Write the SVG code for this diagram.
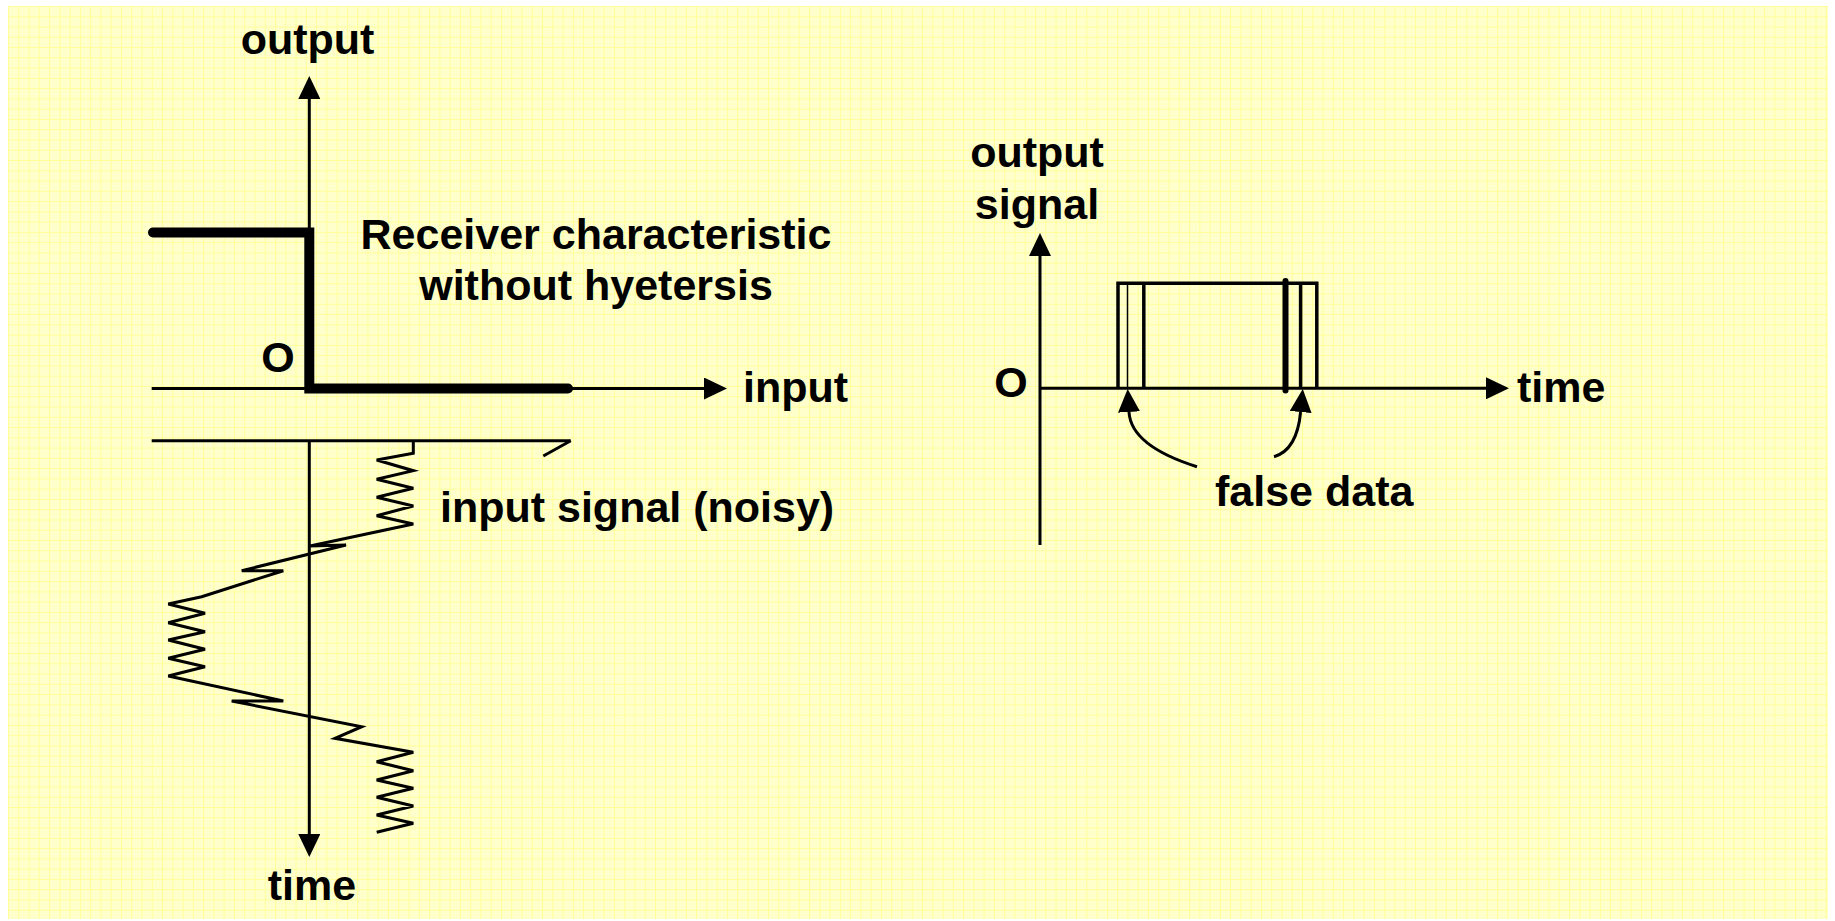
<svg xmlns="http://www.w3.org/2000/svg" width="1835" height="921" viewBox="0 0 1835 921">
  <style>
    .lbl { font-family: "Liberation Sans", Arial, sans-serif; font-weight: bold; font-size: 43px; fill: #000; }
    .ax { stroke: #000; stroke-width: 3; fill: none; }
    .noise { stroke: #000; stroke-width: 3; fill: none; stroke-linejoin: miter; }
    .thick { stroke: #000; stroke-width: 10; fill: none; stroke-linecap: round; stroke-linejoin: miter; }
    .pulse { stroke: #000; stroke-width: 3.5; fill: none; }
  </style>
  <defs>
    <pattern id="grid" x="8" y="6" width="10.27" height="10.27" patternUnits="userSpaceOnUse">
      <rect width="10.27" height="10.27" fill="#FFFFCC"/>
      <path d="M0.5 0 V10.27 M0 0.5 H10.27" stroke="#FFFF99" stroke-width="1"/>
    </pattern>
    <marker id="arrow" viewBox="0 0 23 22" refX="0" refY="11" markerWidth="23" markerHeight="22" markerUnits="userSpaceOnUse" orient="auto">
      <path d="M0 0 L23 11 L0 22 Z" fill="#000"/>
    </marker>
  </defs>

  <rect x="0" y="0" width="1835" height="921" fill="#FFFFFF"/>
  <rect x="8" y="6" width="1820" height="913" fill="url(#grid)"/>

  <g id="connectors">
    <!-- left panel axes -->
    <line class="ax" x1="309.3" y1="388" x2="309.3" y2="99" marker-end="url(#arrow)"/>
    <line class="ax" x1="151.7" y1="388.5" x2="704" y2="388.5" marker-end="url(#arrow)"/>
    <line class="ax" x1="151.7" y1="440.7" x2="570.7" y2="440.7"/>
    <line class="ax" x1="570.7" y1="440.7" x2="543.3" y2="456"/>
    <line class="ax" x1="309.3" y1="440.7" x2="309.3" y2="834" marker-end="url(#arrow)"/>
    <!-- receiver characteristic -->
    <path class="thick" d="M153 232.5 H309.3 V388.5 H568"/>
    <!-- noisy input signal -->
    <polyline class="noise" points="413.3,440.7 413.3,453.3 376.7,460 413.3,470.7 376.7,479.3 413.3,488.3 376.7,497.3 413.3,506 376.7,515.7 413.3,524 310,546 346,545 241.7,570.7 283.3,570.7 201.7,596.7 168.3,604 205,613.3 168.3,622.7 205,631.7 168.3,640 205,649.3 168.3,658.3 205,666.7 168.3,676 283.3,701 231.7,701 361.7,726.7 335,738.3 413.3,752.3 376.7,761.7 413.3,770.7 376.7,780 413.3,788.3 376.7,797.3 413.3,806 376.7,815 413.3,823.3 376.7,832.3"/>

    <!-- right panel axes -->
    <line class="ax" x1="1040" y1="545" x2="1040" y2="256" marker-end="url(#arrow)"/>
    <line class="ax" x1="1040" y1="388.3" x2="1486" y2="388.3" marker-end="url(#arrow)"/>
    <!-- output pulse with glitches -->
    <path class="pulse" d="M1118 388.3 V283.3 H1316.8 V388.3"/>
    <line x1="1127.5" y1="283.3" x2="1127.5" y2="388.3" stroke="#000" stroke-width="1.5"/>
    <line x1="1143.8" y1="283.3" x2="1143.8" y2="388.3" stroke="#000" stroke-width="3.5"/>
    <line x1="1285.5" y1="281" x2="1285.5" y2="390.5" stroke="#000" stroke-width="6" stroke-linecap="round"/>
    <line x1="1300.6" y1="283.3" x2="1300.6" y2="388.3" stroke="#000" stroke-width="3.5"/>
    <!-- false data pointers -->
    <path class="ax" d="M1197 466.7 Q1131 446 1129 412" marker-end="url(#arrow)"/>
    <path class="ax" d="M1274 456.7 Q1297 450 1300.6 412" marker-end="url(#arrow)"/>
  </g>

  <g id="label-output-left"><text class="lbl" x="307.5" y="54" text-anchor="middle">output</text></g>
  <g id="label-receiver"><text class="lbl" text-anchor="middle"><tspan x="596" y="249">Receiver characteristic</tspan><tspan x="596" y="300">without hyetersis</tspan></text></g>
  <g id="label-origin-left"><text class="lbl" x="278" y="372" text-anchor="middle">O</text></g>
  <g id="label-input"><text class="lbl" x="743" y="402">input</text></g>
  <g id="label-input-signal"><text class="lbl" x="440" y="522">input signal (noisy)</text></g>
  <g id="label-time-left"><text class="lbl" x="312" y="900" text-anchor="middle">time</text></g>

  <g id="label-output-signal"><text class="lbl" text-anchor="middle"><tspan x="1037" y="167">output</tspan><tspan x="1037" y="219">signal</tspan></text></g>
  <g id="label-origin-right"><text class="lbl" x="1011" y="397" text-anchor="middle">O</text></g>
  <g id="label-time-right"><text class="lbl" x="1517" y="402">time</text></g>
  <g id="label-false-data"><text class="lbl" x="1215" y="506">false data</text></g>
</svg>
